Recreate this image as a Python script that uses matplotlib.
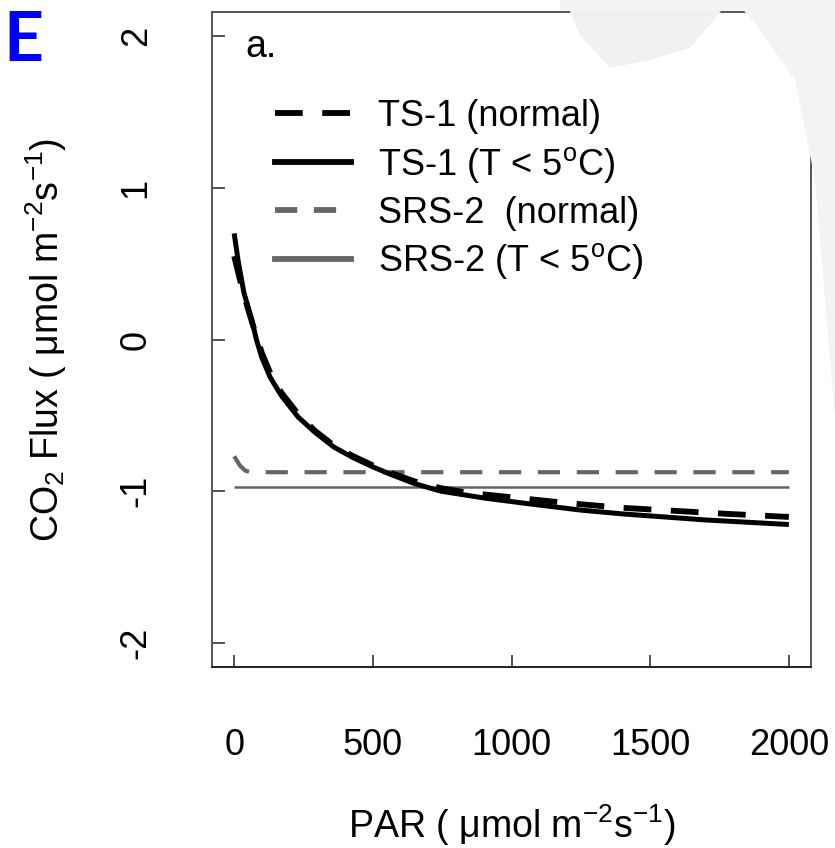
import numpy as np
import matplotlib
matplotlib.use('Agg')
import matplotlib.pyplot as plt
from matplotlib.lines import Line2D
from matplotlib.patches import Polygon

plt.rcParams['font.family'] = ['Liberation Sans', 'DejaVu Sans']
plt.rcParams['mathtext.fontset'] = 'custom'
plt.rcParams['mathtext.rm'] = 'Liberation Sans'
plt.rcParams['mathtext.it'] = 'Liberation Sans'
plt.rcParams['lines.scale_dashes'] = False

# valores (PAR x fluxo de CO2)
par_ts1_frio = [0, 15, 35, 65, 80, 100, 130, 170, 230, 290, 360, 430, 500, 565, 650, 745,
                900, 1070, 1250, 1400, 1550, 1700, 1850, 2000]
flux_ts1_frio = [0.70, 0.51, 0.31, 0.12, 0.0, -0.12, -0.25, -0.37, -0.51, -0.61, -0.71, -0.78,
                 -0.84, -0.89, -0.95, -1.00, -1.045, -1.085, -1.125, -1.15, -1.17, -1.19, -1.205, -1.22]

par_ts1_normal = [0, 20, 50, 75, 100, 130, 170, 230, 290, 360, 430, 500, 565, 650, 745, 840,
                  1025, 1210, 1400, 1590, 1780, 2000]
flux_ts1_normal = [0.55, 0.40, 0.20, 0.05, -0.09, -0.22, -0.35, -0.49, -0.60, -0.70, -0.77,
                   -0.83, -0.88, -0.935, -0.98, -1.01, -1.045, -1.08, -1.11, -1.13, -1.15, -1.17]

par_srs2_normal = [0, 20, 40, 60, 2000]
flux_srs2_normal = [-0.77, -0.83, -0.865, -0.875, -0.875]

par_srs2_frio = [0, 2000]
flux_srs2_frio = [-0.975, -0.975]

rotulos = ['TS-1 (normal)', r'TS-1 (T < 5$^{\mathrm{o}}$C)',
           'SRS-2  (normal)', r'SRS-2 (T < 5$^{\mathrm{o}}$C)']

cinza = '#666666'
tracejado_preto = (0, (20, 14))
tracejado_cinza = (0, (16, 12))

fig = plt.figure(figsize=(8.35, 8.48), dpi=100)

# mancha cinza clara do fundo (marca d'agua)
def px(pts):
    return [(x / 835, 1 - y / 848) for x, y in pts]

fig.patches.append(Polygon(px([(565, 0), (580, 35), (610, 68), (650, 60), (690, 48), (712, 22), (730, 0)]),
                           closed=True, transform=fig.transFigure, facecolor='#f1f1f1',
                           edgecolor='none', zorder=0))
fig.patches.append(Polygon(px([(735, 0), (760, 30), (795, 80), (815, 180), (835, 420), (835, 0)]),
                           closed=True, transform=fig.transFigure, facecolor='#f3f3f3',
                           edgecolor='none', zorder=0))
fig.patches.append(Polygon(px([(560, 0), (835, 0), (835, 11), (560, 11)]),
                           closed=True, transform=fig.transFigure, facecolor='#f4f4f4',
                           edgecolor='none', zorder=0))

ax = fig.add_axes([0.2539, 0.2134, 0.7174, 0.7724])
ax.set_facecolor('none')

ax.plot(par_srs2_frio, flux_srs2_frio, color=cinza, lw=1.8, solid_capstyle='butt')
ax.plot(par_srs2_normal, flux_srs2_normal, color=cinza, lw=3.0, linestyle=tracejado_cinza)
ax.plot(par_ts1_frio, flux_ts1_frio, color='black', lw=3.6, solid_capstyle='butt')
ax.plot(par_ts1_normal, flux_ts1_normal, color='black', lw=4.2, linestyle=tracejado_preto)

ax.set_xlim(-80, 2080)
ax.set_ylim(-2.16, 2.16)
ax.set_xticks([0, 500, 1000, 1500, 2000])
ax.set_yticks([-2, -1, 0, 1, 2])
ax.set_yticklabels(['-2', '-1', '0', '1', '2'], rotation=90, va='center')
ax.tick_params(axis='x', direction='in', length=9, width=1.1, color='#222222',
               labelsize=26, pad=44)
ax.tick_params(axis='y', direction='in', length=9, width=1.1, color='#222222',
               labelsize=26, pad=42)

for lado in ['top', 'right', 'left']:
    ax.spines[lado].set_color('#555555')
    ax.spines[lado].set_linewidth(1.4)
ax.spines['bottom'].set_color('#222222')
ax.spines['bottom'].set_linewidth(1.4)

ax.set_xlabel(r'PAR ( $\mu$mol m$^{-2}$s$^{-1}$)', fontsize=27, labelpad=28)
ax.set_ylabel(r'CO$_2$ Flux ( $\mu$mol m$^{-2}$s$^{-1}$)', fontsize=27, labelpad=36)

ax.text(40, 1.93, 'a.', fontsize=27, va='center', ha='left')

handles = [Line2D([], [], color='black', lw=4.2, linestyle=tracejado_preto),
           Line2D([], [], color='black', lw=4.2),
           Line2D([], [], color=cinza, lw=4.2, linestyle=tracejado_cinza),
           Line2D([], [], color=cinza, lw=4.2)]
ax.legend(handles, rotulos, loc='upper left', bbox_to_anchor=(0.075, 0.895), frameon=False,
          fontsize=26, handlelength=2.1, handletextpad=0.75, labelspacing=0.3, borderpad=0)

fig.text(0.004, 0.988, 'E', color='#0000ff', fontsize=50, fontweight='bold',
         family='Lato', va='top', ha='left')

fig.savefig('out.png', dpi=100)
